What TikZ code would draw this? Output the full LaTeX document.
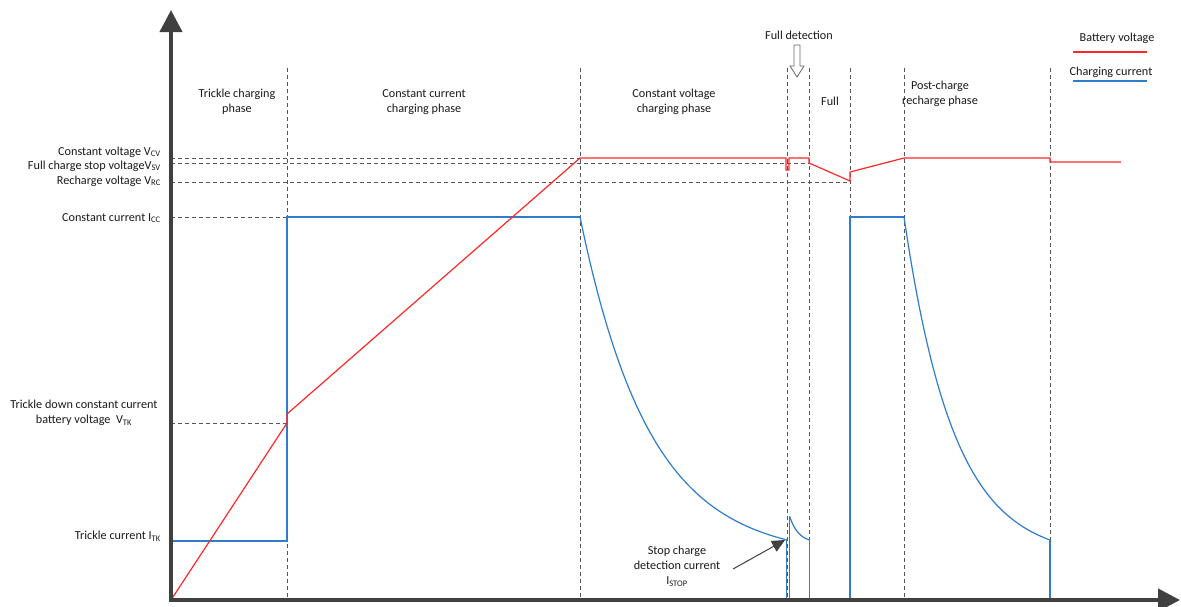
\documentclass[tikz,border=0pt]{standalone}
\usepackage{fontspec}
\setmainfont{Carlito}
\usetikzlibrary{arrows.meta}
\definecolor{vred}{HTML}{FF2828}
\definecolor{iblue}{HTML}{2E7CCB}
\definecolor{axisgray}{HTML}{404040}
\definecolor{guidegray}{HTML}{555555}
\tikzstyle{axis} = [line width=4pt, draw=axisgray, -{Triangle[length=22pt,width=22pt]}]
\tikzstyle{guide} = [draw=guidegray, line width=0.8pt, dash pattern=on 4pt off 3pt]
\tikzstyle{volt} = [draw=vred, line width=1.2pt]
\tikzstyle{curr} = [draw=iblue, line width=1.2pt]
\tikzstyle{label} = [font=\fontsize{12.2}{15}\selectfont, text=black!90, inner sep=0pt, align=center]
\tikzstyle{level} = [label, anchor=east]
\tikzstyle{pointer} = [draw=axisgray, line width=1pt, -{Triangle[length=13pt,width=12pt]}]

\begin{document}
\begin{tikzpicture}[x=1pt, y=-1pt]
\useasboundingbox (0,0) rectangle (1181,606);
% key points
\coordinate (origin) at (171,600);
\coordinate (tk) at (287,423);
\coordinate (cv) at (580,158);
\coordinate (istop) at (785,540);

% phase borders
\draw [guide] (287,68) -- (287,600);
\draw [guide] (580,68) -- (580,600);
\draw [guide] (787,68) -- (787,600);
\draw [guide] (809,68) -- (809,600);
\draw [guide] (850,68) -- (850,600);
\draw [guide] (904,68) -- (904,600);
\draw [guide] (1050,68) -- (1050,600);

% level guides
\draw [guide] (171,158) -- (cv);
\draw [guide] (171,163) -- (809,163);
\draw [guide] (171,182) -- (850,182);
\draw [guide] (171,217) -- (287,217);
\draw [guide] (171,423) -- (tk);

% charging current
\draw [curr] (171,541) -- (287,541) -- (287,217) -- (580,217);
\draw [curr] plot[domain=0:207, samples=60] ({580+\x},{217+323*(1-exp(-\x/70))/(1-exp(-207/70))});
\draw [curr] (786.5,540) -- (786.5,600) -- (789.5,600) -- (789.5,516);
\draw [curr] plot[domain=0:20, samples=20] ({789.5+\x},{516+24*(1-exp(-\x/9))/(1-exp(-20/9))});
\draw [curr] (809.5,540) -- (809.5,600) -- (850,600) -- (850,217) -- (904,217);
\draw [curr] plot[domain=0:146, samples=60] ({904+\x},{217+323*(1-exp(-\x/50))/(1-exp(-146/50))});
\draw [curr] (1050,540) -- (1050,600) -- (1100,600);

% battery voltage
\draw [volt] (origin) -- (tk) -- (287,414) -- (cv) -- (786,158) -- (786,170) -- (789,170) -- (789,158)
  -- (809,158) -- (809,163) -- (850,181) -- (850,172) -- (904,158) -- (1050,158) -- (1050,162) -- (1121,162);

% axes
\draw [axis] (171,602) -- (171,10);
\draw [axis] (169,600) -- (1180,600);

% phase labels
\node (trickle) [label] at (237,102) {Trickle charging\\phase};
\node (ccphase) [label] at (424,102) {Constant current\\charging phase};
\node (cvphase) [label] at (674,102) {Constant voltage\\charging phase};
\node (full) [label] at (830,101) {Full};
\node (post) [label] at (940,94) {Post-charge\\recharge phase};
\node (fulldet) [label] at (799,35) {Full detection};
\filldraw [draw=axisgray!80, fill=white, line width=0.8pt] (794,45) -- (800,45) -- (800,66) -- (804,66)
  -- (797,77) -- (790,66) -- (794,66) -- cycle;

% level labels
\node (vcv) [level] at (161,152) {Constant voltage V\textsubscript{CV}};
\node (vsv) [level] at (161,166) {Full charge stop voltageV\textsubscript{SV}};
\node (vrc) [level] at (161,181) {Recharge voltage V\textsubscript{RC}};
\node (icc) [level] at (161,218) {Constant current I\textsubscript{CC}};
\node (vtk) [label] at (84,413) {Trickle down constant current\\battery voltage\ \ V\textsubscript{TK}};
\node (itk) [level] at (161,536) {Trickle current I\textsubscript{TK}};

% stop current
\node (stoplbl) [label] at (677,566) {Stop charge\\detection current\\I\textsubscript{STOP}};
\draw [pointer] (733,569) -- (istop);

% legend
\node (legv) [label] at (1117,38) {Battery voltage};
\draw [volt] (1073,52) -- (1147,52);
\node (legi) [label] at (1111,72) {Charging current};
\draw [curr] (1073,81) -- (1147,81);
\end{tikzpicture}
\end{document}
